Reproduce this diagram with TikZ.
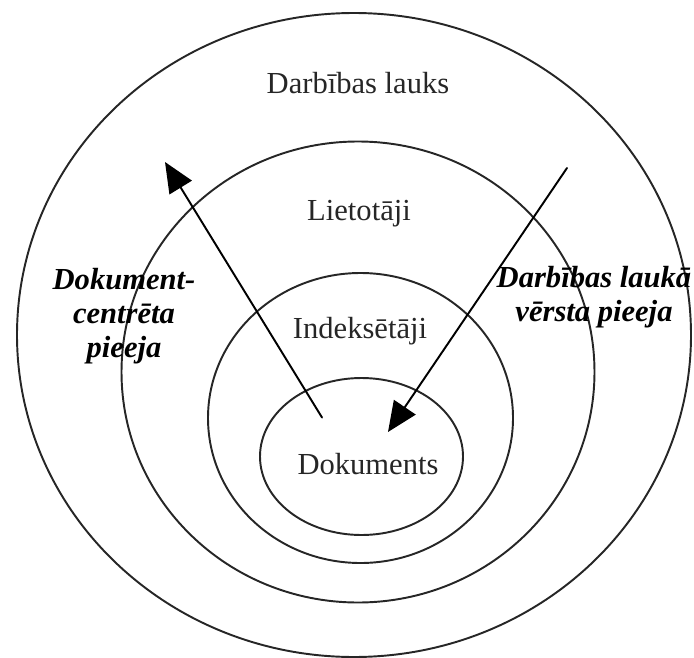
\documentclass[tikz,border=0pt]{standalone}
\usepackage{fontspec}
\setmainfont{Liberation Serif}
\usetikzlibrary{arrows.meta}
\begin{document}
\begin{tikzpicture}[line cap=round,line join=round,font=\fontsize{17.4}{19.3}\selectfont,
		ring/.style={line width=1.1pt,draw=black!85},
		lbl/.style={anchor=base,inner sep=0pt,text=black!85},
		approach/.style={inner sep=0pt,align=center,font=\fontsize{17.4}{19.3}\selectfont\bfseries\itshape},
		flow/.style={line width=1.1pt,-{Triangle[length=0.6cm,width=0.52cm]}}]
		\useasboundingbox (0,0) rectangle (13.88,-13.16);
		% rings, outside in
		\draw[ring] (7.08,-6.70) ellipse (6.74 and 6.44);
		\draw[ring] (7.16,-7.44) ellipse (4.73 and 4.61);
		\draw[ring] (7.21,-8.36) ellipse (3.05 and 2.90);
		\draw[ring] (7.23,-9.13) ellipse (2.03 and 1.57);
		\node[lbl] (lauks) at (7.16,-1.86) {Darbības lauks};
		\node[lbl] (lietotaji) at (7.18,-4.40) {Lietotāji};
		\node[lbl] (indeksetaji) at (7.20,-6.76) {Indeksētāji};
		\node[lbl] (dokuments) at (7.36,-9.48) {Dokuments};
		\node[approach] (dokcentr) at (2.48,-6.33) {Dokument-\\centrēta\\pieeja};
		\node[approach] (laukvers) at (11.88,-5.95) {Darbības laukā\\vērsta pieeja};
		% arrows
		\coordinate (dcFrom) at (6.44,-8.35);
		\coordinate (dcTo) at (3.30,-3.24);
		\coordinate (dlFrom) at (11.34,-3.36);
		\coordinate (dlTo) at (7.76,-8.64);
		\draw[flow] (dcFrom)--(dcTo);
		\draw[flow] (dlFrom)--(dlTo);
	\end{tikzpicture}
\end{document}
